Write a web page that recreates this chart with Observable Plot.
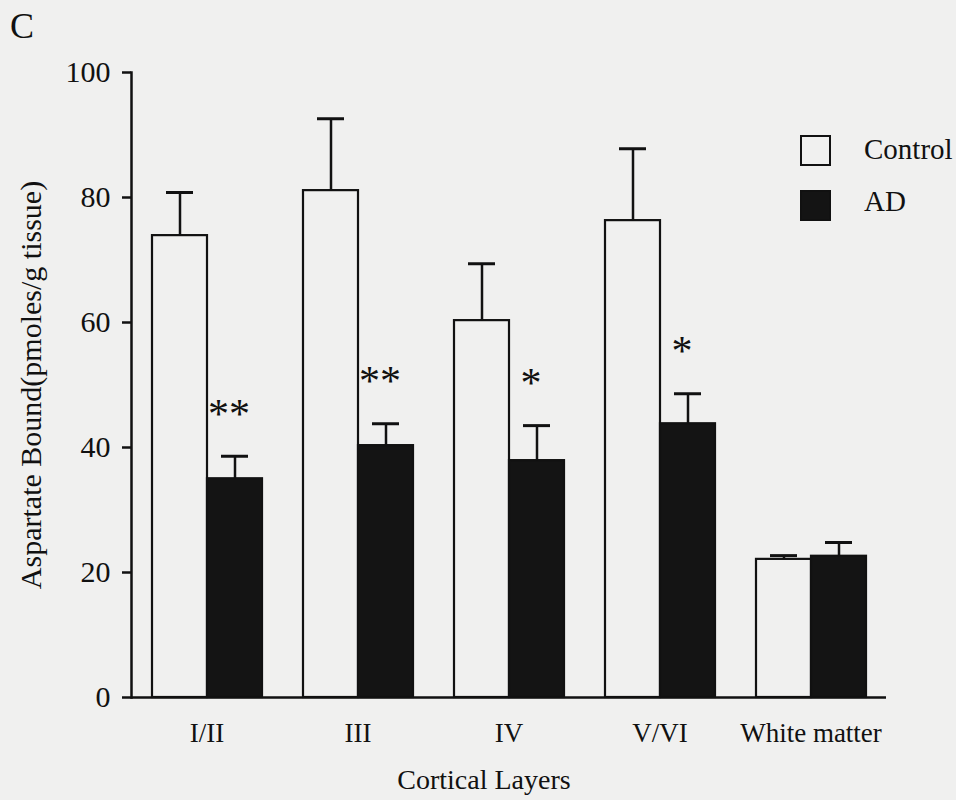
<!DOCTYPE html>
<html><head><meta charset="utf-8">
<script src="https://cdn.jsdelivr.net/npm/d3@7"></script>
<script src="https://cdn.jsdelivr.net/npm/@observablehq/plot@0.6"></script>
<style>
body{margin:0;background:#f0f0ef;font-family:"Liberation Serif","Times New Roman",serif;color:#111;}
#wrap{position:relative;width:956px;height:800px;}
#wrap svg{position:absolute;left:0;top:0;}
.panel{position:absolute;left:10px;top:8px;font-size:36px;line-height:1;}
.lg{position:absolute;font-size:29px;line-height:1;}
.sw{position:absolute;width:27px;height:27px;border:2.5px solid #111;box-sizing:content-box;}
</style></head><body>
<div id="wrap">
  <div class="panel">C</div>
</div>
<script>
const layers = ["I/II", "III", "IV", "V/VI", "White matter"];
const groups = ["Control", "AD"];
const controlMean = [73.9, 81.1, 60.3, 76.3, 22.1];
const controlSem  = [6.9, 11.5, 9.1, 11.5, 0.6];
const adMean      = [35.0, 40.3, 37.9, 43.8, 22.6];
const adSem       = [3.6, 3.5, 5.6, 4.8, 2.2];
const significance = ["**", "**", "*", "*", ""];
const yTicks = [0, 20, 40, 60, 80, 100];
const yLabel = "Aspartate Bound(pmoles/g tissue)";
const xLabel = "Cortical Layers";
const colors = ["#f0f0ef", "#141414"];

const rows = layers.flatMap((l, i) => [
  {layer: l, group: "Control", value: controlMean[i], top: controlMean[i] + controlSem[i]},
  {layer: l, group: "AD", value: adMean[i], top: adMean[i] + adSem[i]}
]);
const stars = layers.map((l, i) => ({layer: l, group: "AD", top: adMean[i] + adSem[i], text: significance[i]}))
  .filter(d => d.text);

const chart = Plot.plot({
  width: 956, height: 800,
  marginLeft: 130, marginRight: 69, marginTop: 72, marginBottom: 103,
  style: {background: "transparent", fontFamily: "Liberation Serif, serif", color: "#111"},
  fx: {domain: layers, padding: 0},
  x: {domain: groups, paddingInner: 0, paddingOuter: 0.352, axis: null},
  y: {domain: [0, 100]},
  color: {domain: groups, range: colors},
  marks: [
    Plot.barY(rows, {fx: "layer", x: "group", y: "value", fill: "group", stroke: "#111", strokeWidth: 2.2}),
    Plot.ruleX(rows, {fx: "layer", x: "group", y1: "value", y2: "top", stroke: "#111", strokeWidth: 2.5}),
    Plot.tickY(rows, {fx: "layer", x: "group", y: "top", insetLeft: 14, insetRight: 14, stroke: "#111", strokeWidth: 3}),
    Plot.text(stars, {fx: "layer", x: "group", y: "top", text: "text", dx: -6, dy: -42, fontSize: 42, fill: "#111"}),
    Plot.ruleY([0], {stroke: "#111", strokeWidth: 2.5}),
    Plot.frame({anchor: "left", facet: "super", stroke: "#111", strokeWidth: 2.5}),
    Plot.axisY({ticks: yTicks, tickSize: 9, tickPadding: 12, fontSize: 30, label: null, strokeWidth: 2.5}),
    Plot.axisFx({anchor: "bottom", tickSize: 0, tickPadding: 25, fontSize: 27, label: null}),
    Plot.text([yLabel], {frameAnchor: "left", textAnchor: "middle", lineAnchor: "middle", rotate: -90, dx: -100, fontSize: 30, fill: "#111", facet: "super"}),
    Plot.text([xLabel], {frameAnchor: "bottom", dx: -25, dy: 91, fontSize: 28, fill: "#111", facet: "super"})
  ]
});
const wrap = document.getElementById("wrap");
wrap.appendChild(chart);

// legend
const legendItems = groups.map((g, i) => ({name: g, color: colors[i]}));
legendItems.forEach((it, i) => {
  const sw = document.createElement("div");
  sw.className = "sw";
  sw.style.left = "800px";
  sw.style.top = (135 + i * 55) + "px";
  sw.style.background = it.color;
  wrap.appendChild(sw);
  const t = document.createElement("div");
  t.className = "lg";
  t.textContent = it.name;
  t.style.left = "864px";
  t.style.top = (135 + i * 52) + "px";
  wrap.appendChild(t);
});
</script>
</body></html>
